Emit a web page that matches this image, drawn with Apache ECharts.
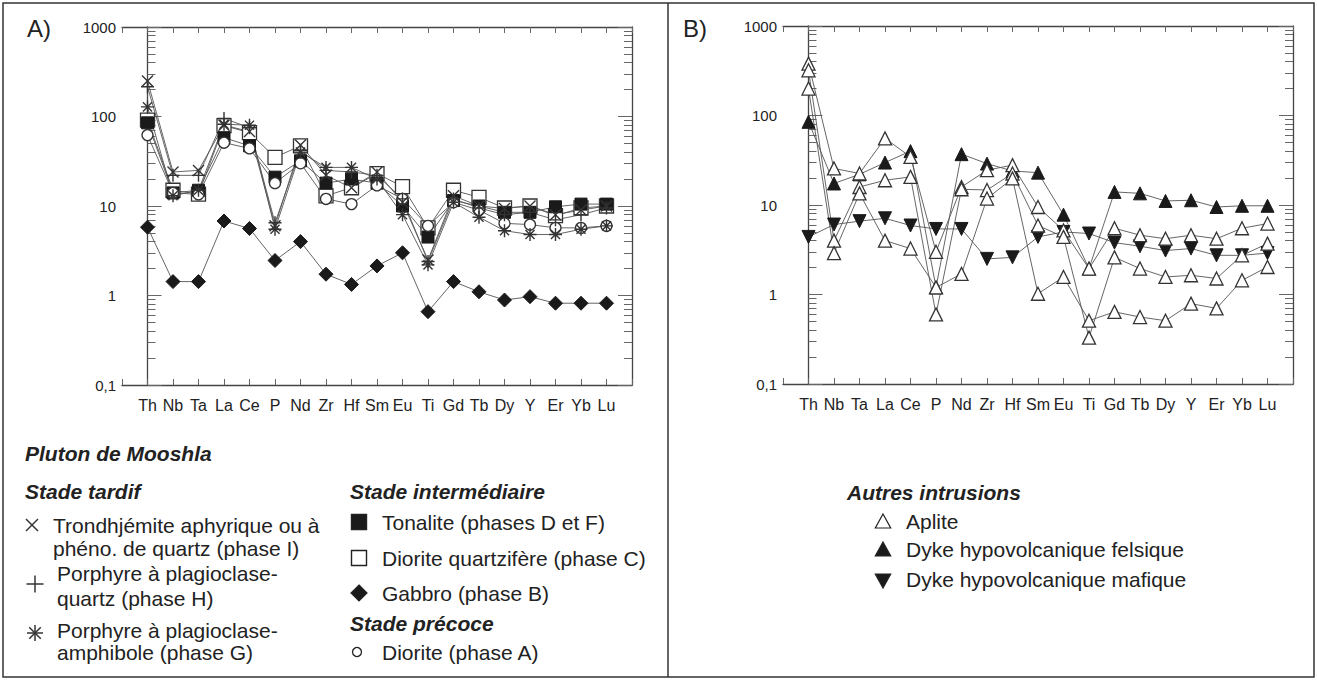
<!DOCTYPE html>
<html>
<head>
<meta charset="utf-8">
<script src="https://cdn.jsdelivr.net/npm/echarts@6/dist/echarts.min.js"></script>
<style>
  html, body {margin: 0; padding: 0; background: #fff;}
  #chart {width: 1317px; height: 680px;}
</style>
</head>
<body>
<div id="chart"></div>
<script>
// éléments du diagramme multi-éléments (normalisé)
const elements = ['Th', 'Nb', 'Ta', 'La', 'Ce', 'P', 'Nd', 'Zr', 'Hf', 'Sm', 'Eu', 'Ti', 'Gd', 'Tb', 'Dy', 'Y', 'Er', 'Yb', 'Lu']
const majorTicks = [0.1, 1, 10, 100, 1000]
const majorLabels = ['0,1', '1', '10', '100', '1000']
const minorTicks = [0.2, 0.3, 0.4, 0.5, 0.6, 0.7, 0.8, 0.9, 2, 3, 4, 5, 6, 7, 8, 9,
  20, 30, 40, 50, 60, 70, 80, 90, 200, 300, 400, 500, 600, 700, 800, 900]

// A) Pluton de Mooshla
const trondhjemite = [250, 24, 25, 80, 68, 6, 48, 22, 16, 24, 11, 2.5, 13, 10, 9.4, 10, 8, 9, 10]
const porphyreQz = [215, 22, 22, 95, 75, 6.5, 42, 25, 24, 22, 12, 2.4, 12, 9.5, 8, 8.5, 7, 8, 9.5]
const porphyreAmph = [128, 13, 15, 82, 80, 5.5, 40, 27, 27, 20, 8, 2.2, 11, 7.5, 5.3, 4.8, 4.8, 5.5, 6]
const tonalite = [85, 14, 15, 58, 47, 21, 32, 18, 20, 18, 10, 4.5, 11.5, 10, 8.5, 8.5, 9.8, 10.5, 10.5]
const dioriteQz = [91, 15, 13.6, 79, 66, 35, 47, 13, 16, 23, 16.5, 5.7, 15, 12.5, 9.5, 10, 7.8, 9.5, 10]
const gabbro = [5.8, 1.43, 1.43, 6.8, 5.6, 2.46, 4.0, 1.73, 1.33, 2.14, 3.0, 0.66, 1.43, 1.1, 0.89, 0.97, 0.82, 0.82, 0.82]
const diorite = [62, 14, 13.5, 51, 44, 18, 30, 12, 10.5, 17, 12, 6, 11, 9, 6.4, 6.2, 5.7, 5.7, 6]

// B) Autres intrusions
const aplite1 = [380, 25.6, 22.5, 55.5, 34.5, 3.0, 15.9, 24.5, 27.9, 9.5, 5.2, 1.95, 5.5, 4.6, 4.2, 4.6, 4.2, 5.5, 6.2]
const aplite2 = [320, 4.0, 15.9, 18.9, 20.6, 0.6, 15, 14.7, 22.5, 5.9, 4.4, 0.33, 2.6, 1.95, 1.57, 1.64, 1.51, 2.74, 3.7]
const aplite3 = [200, 2.9, 13.5, 4.0, 3.26, 1.2, 1.7, 11.8, 19.8, 1.02, 1.57, 0.51, 0.64, 0.56, 0.51, 0.79, 0.7, 1.44, 2.03]
const dykeFelsic = [85, 17.4, 22, 29.8, 40, 1.2, 37, 29, 24, 23, 7.8, 1.95, 14, 13.5, 11.1, 11.3, 9.5, 9.8, 9.8]
const dykeMafic = [4.4, 6.05, 6.6, 7.1, 5.9, 5.4, 5.4, 2.5, 2.6, 4.4, 5.0, 4.8, 3.8, 3.46, 3.1, 3.26, 2.74, 2.74, 2.9]

const FONT = '"Liberation Sans", Arial, sans-serif'
const INK = '#222'
const LINE = '#555'

const SYM_X = 'path://M0,0L10,10M10,0L0,10'
const SYM_PLUS = 'path://M5,0L5,10M0,5L10,5'
const SYM_STAR = 'path://M5,0L5,10M0,5L10,5M1.5,1.5L8.5,8.5M8.5,1.5L1.5,8.5'

const chart = echarts.init(document.getElementById('chart'), null, {renderer: 'svg'})

const xAxes = (gridIndex) => [
  {
    gridIndex, type: 'value', min: -1, max: 19, interval: 1, position: 'bottom',
    axisLine: {lineStyle: {color: '#444', width: 1.3}},
    axisTick: {inside: true, length: 6, lineStyle: {color: '#666'}},
    axisLabel: {formatter: v => elements[v] || '', fontSize: 16, color: INK, margin: 12, fontFamily: FONT},
    splitLine: {show: false},
  }, {
    gridIndex, type: 'value', min: -1, max: 19, interval: 1, position: 'top',
    axisLine: {lineStyle: {color: '#444', width: 1.3}},
    axisTick: {inside: true, length: 6, lineStyle: {color: '#666'}},
    axisLabel: {show: false},
    splitLine: {show: false},
  },
]

const yAxis = (gridIndex, position, minor, labels) => ({
  gridIndex, type: 'log', logBase: 10, min: 0.1, max: 1000, position,
  axisLine: {show: !minor, lineStyle: {color: '#444', width: 1.3}},
  axisTick: {inside: true, length: minor ? 8 : 14, customValues: minor ? minorTicks : majorTicks,
    lineStyle: {color: '#666'}},
  axisLabel: labels ? {
    customValues: majorTicks,
    formatter: v => majorLabels[majorTicks.findIndex(t => Math.abs(Math.log10(t) - Math.log10(v)) < 0.01)],
    fontSize: 15, color: INK, margin: 6, fontFamily: FONT,
  } : {show: false},
  splitLine: {show: false},
  minorSplitLine: {show: false},
})

const yAxes = (gridIndex) => [
  yAxis(gridIndex, 'left', false, true),
  yAxis(gridIndex, 'left', true, false),
  yAxis(gridIndex, 'right', false, false),
  yAxis(gridIndex, 'right', true, false),
]

const toPoints = values => values.map((v, i) => [i, v])

const makeSeries = (name, panel, values, symbol, size, itemStyle) => ({
  name, type: 'line',
  xAxisIndex: panel * 2, yAxisIndex: panel * 4,
  data: toPoints(values),
  symbol, symbolSize: size,
  showAllSymbol: true,
  lineStyle: {color: LINE, width: 0.9},
  itemStyle,
  emphasis: {disabled: true},
})

const filled = {color: '#1a1a1a', borderColor: '#1a1a1a', borderWidth: 1}
const hollow = {color: '#fff', borderColor: '#333', borderWidth: 1.3}
const stroke = {color: 'none', borderColor: '#333', borderWidth: 1.4}

// --- légende (texte réel + symboles dessinés) ---
const text = (x, y, str, head, size) => ({
  type: 'text', x, y, silent: true,
  style: {
    text: str, fill: INK,
    font: (head ? 'italic bold ' : '') + (size || 21) + 'px ' + FONT,
    align: 'left', verticalAlign: 'middle', textAlign: 'left', textVerticalAlign: 'middle',
  },
})
const seg = (x1, y1, x2, y2) => ({
  type: 'line', silent: true, shape: {x1, y1, x2, y2}, style: {stroke: '#333', lineWidth: 1.5},
})
const symX = (cx, cy, r) => [seg(cx - r, cy - r, cx + r, cy + r), seg(cx + r, cy - r, cx - r, cy + r)]
const symPlus = (cx, cy, r) => [seg(cx - r, cy, cx + r, cy), seg(cx, cy - r, cx, cy + r)]
const symStar = (cx, cy, r) => [...symPlus(cx, cy, r), ...symX(cx, cy, r * 0.72)]
const square = (cx, cy, r, fill) => ({
  type: 'rect', silent: true, shape: {x: cx - r, y: cy - r, width: 2 * r, height: 2 * r},
  style: {fill, stroke: '#222', lineWidth: 1.4},
})
const poly = (points, fill) => ({
  type: 'polygon', silent: true, shape: {points}, style: {fill, stroke: '#222', lineWidth: 1.2},
})
const ring = (cx, cy, r) => ({
  type: 'circle', silent: true, shape: {cx, cy, r}, style: {fill: '#fff', stroke: '#222', lineWidth: 1.3},
})
const tri = (cx, cy, h, fill, down) => poly(down
  ? [[cx - h * 0.55, cy - h / 2], [cx + h * 0.55, cy - h / 2], [cx, cy + h / 2]]
  : [[cx, cy - h / 2], [cx + h * 0.55, cy + h / 2], [cx - h * 0.55, cy + h / 2]], fill)

const graphics = [
  {type: 'rect', silent: true, shape: {x: 3, y: 3, width: 1311, height: 674},
    style: {fill: 'none', stroke: '#333', lineWidth: 1.5}},
  seg(668, 3, 668, 677),
  text(27, 28, 'A)', false, 24), text(683, 28, 'B)', false, 24),

  text(25, 453, 'Pluton de Mooshla', true),
  text(25, 491, 'Stade tardif', true),
  ...symX(32, 525, 6),
  text(53, 525, 'Trondhjémite aphyrique ou à'),
  text(53, 548, 'phéno. de quartz (phase I)'),
  ...symPlus(35, 584, 8.5),
  text(57, 573, 'Porphyre à plagioclase-'),
  text(57, 598, 'quartz (phase H)'),
  ...symStar(35, 633, 8),
  text(57, 630, 'Porphyre à plagioclase-'),
  text(57, 652, 'amphibole (phase G)'),

  text(350, 491, 'Stade intermédiaire', true),
  square(359, 522, 7.5, '#1a1a1a'),
  text(382, 522, 'Tonalite (phases D et F)'),
  square(359, 558, 7.5, '#fff'),
  text(382, 558, 'Diorite quartzifère (phase C)'),
  poly([[359, 585], [367, 593], [359, 601], [351, 593]], '#1a1a1a'),
  text(382, 593, 'Gabbro (phase B)'),
  text(350, 623, 'Stade précoce', true),
  ring(357, 652, 4.5),
  text(382, 652, 'Diorite (phase A)'),

  text(847, 492, 'Autres intrusions', true),
  tri(883, 521, 14, '#fff'),
  text(906, 521, 'Aplite'),
  tri(883, 549, 14, '#1a1a1a'),
  text(906, 549, 'Dyke hypovolcanique felsique'),
  tri(883, 581, 14, '#1a1a1a', true),
  text(906, 579, 'Dyke hypovolcanique mafique'),
]

const option = {
  animation: false,
  backgroundColor: '#fff',
  grid: [
    {left: 122, top: 27, width: 510, height: 358, outerBoundsMode: 'none'},
    {left: 783, top: 26, width: 510, height: 358, outerBoundsMode: 'none'},
  ],
  xAxis: [...xAxes(0), ...xAxes(1)],
  yAxis: [...yAxes(0), ...yAxes(1)],
  series: [
    makeSeries('Gabbro (phase B)', 0, gabbro, 'diamond', 14, filled),
    makeSeries('Diorite quartzifère (phase C)', 0, dioriteQz, 'rect', 14, hollow),
    makeSeries('Tonalite (phases D et F)', 0, tonalite, 'rect', 12, filled),
    makeSeries('Diorite (phase A)', 0, diorite, 'circle', 11, hollow),
    makeSeries('Porphyre à plagioclase-amphibole (phase G)', 0, porphyreAmph, SYM_STAR, 13, stroke),
    makeSeries('Porphyre à plagioclase-quartz (phase H)', 0, porphyreQz, SYM_PLUS, 13, stroke),
    makeSeries('Trondhjémite (phase I)', 0, trondhjemite, SYM_X, 11, stroke),

    makeSeries('Dyke hypovolcanique mafique', 1, dykeMafic, 'path://M0,0L10,0L5,9Z', 13, filled),
    makeSeries('Dyke hypovolcanique felsique', 1, dykeFelsic, 'triangle', 13, filled),
    makeSeries('Aplite 1', 1, aplite1, 'triangle', 13, hollow),
    makeSeries('Aplite 2', 1, aplite2, 'triangle', 13, hollow),
    makeSeries('Aplite 3', 1, aplite3, 'triangle', 13, hollow),
  ],
  graphic: {elements: graphics},
}

chart.setOption(option)
</script>
</body>
</html>
